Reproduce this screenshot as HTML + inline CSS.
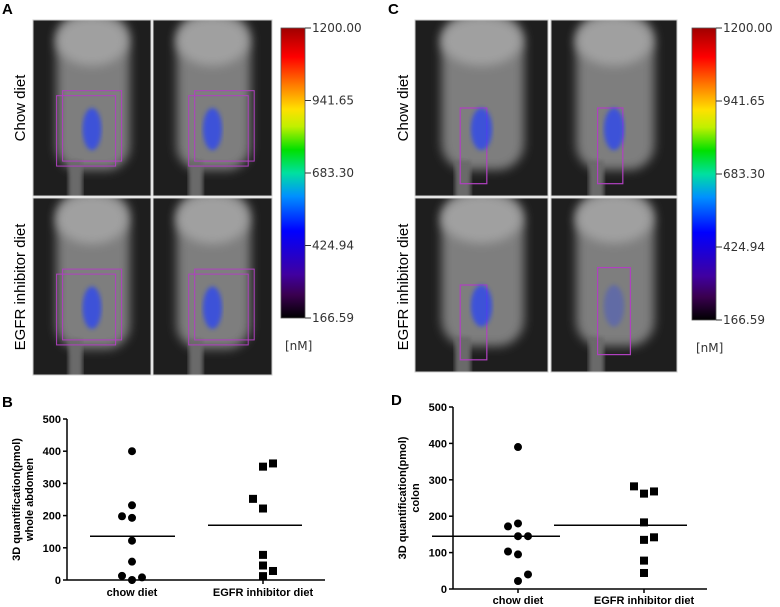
<!DOCTYPE html>
<html><head><meta charset="utf-8"><style>
body{margin:0;background:#fff;width:780px;height:607px;overflow:hidden;font-family:"Liberation Sans",sans-serif}
svg{display:block}
</style></head><body>
<svg width="780" height="607" xmlns="http://www.w3.org/2000/svg">
<defs>
<filter id="bl" x="-20%" y="-20%" width="140%" height="140%"><feGaussianBlur stdDeviation="5"/></filter>
<filter id="bl2"><feGaussianBlur stdDeviation="2"/></filter>
<linearGradient id="cb" x1="0" y1="1" x2="0" y2="0">
<stop offset="0" stop-color="#000"/><stop offset="0.08" stop-color="#3a0050"/><stop offset="0.15" stop-color="#4000a0"/>
<stop offset="0.3" stop-color="#0000ff"/><stop offset="0.42" stop-color="#0090ff"/><stop offset="0.5" stop-color="#00e0a0"/>
<stop offset="0.58" stop-color="#00e000"/><stop offset="0.66" stop-color="#c0f000"/><stop offset="0.72" stop-color="#ffe000"/>
<stop offset="0.8" stop-color="#ff8000"/><stop offset="0.9" stop-color="#ff0000"/><stop offset="1" stop-color="#a00000"/>
</linearGradient>
</defs>
<g>
<text x="2" y="14" font-size="15" font-weight="bold">A</text>
</g>
</svg>
<script>
const NS='http://www.w3.org/2000/svg';
const root=document.querySelector('svg');
function mk(tag,attrs,parent){const e=document.createElementNS(NS,tag);for(const k in attrs)e.setAttribute(k,attrs[k]);(parent||root).appendChild(e);return e;}
const imgs=[[33,20,118,176,0],[153,20,119,176,1],[33,198,118,177,0],[153,198,119,177,1],
[415,20,133,176,0],[551,20,126,176,1],[415,198,133,174,0],[551,198,126,174,1]];
imgs.forEach((m,i)=>{
 const g=mk('g',{});
 
 
 const [x,y,w,h]=m;
 const cp=mk('clipPath',{id:'cp'+i},root);
 mk('rect',{x,y,width:w,height:h},cp);
 const inner=mk('g',{'clip-path':'url(#cp'+i+')'},g);
 mk('rect',{x,y,width:w,height:h,fill:'#1e1e1e'},inner);
 mk('rect',{x:x+w*0.2,y:y-5,width:w*0.62,height:h*0.88,rx:w*0.2,fill:'#7e7e7e',filter:'url(#bl)'},inner);
 mk('rect',{x:x+w*0.3,y:y+h*0.8,width:w*0.12,height:h*0.25,fill:'#6a6a6a',filter:'url(#bl2)'},inner);
 mk('ellipse',{cx:x+w*0.5,cy:y+h*0.12,rx:w*0.3,ry:h*0.14,fill:'#a0a0a0',filter:'url(#bl)'},inner);
 const bx=x+w*(i%2?0.3:0.2), by=y+h*(i<4?0.43:0.48);
 if(i<4){
  mk('rect',{x:bx,y:by,width:w*0.5,height:h*0.4,fill:'none',stroke:'#b040c0','stroke-width':1},inner);
  mk('rect',{x:bx+6,y:by-5,width:w*0.5,height:h*0.4,fill:'none',stroke:'#b040c0','stroke-width':1},inner);
 } else {
  const bw=w*(i==7?0.26:0.2);
  mk('rect',{x:x+w*(i%2?0.37:0.34),y:y+h*(i==7?0.4:0.5),width:bw,height:h*(i==7?0.5:0.43),fill:'none',stroke:'#b040c0','stroke-width':1.2},inner);
 }
 mk('ellipse',{cx:x+w*0.5,cy:y+h*0.62,rx:w*0.08,ry:h*0.12,fill:'#2040ff',opacity:i==7?0.3:0.7,filter:'url(#bl2)'},inner);
 mk('rect',{x,y,width:w,height:h,fill:'none',stroke:'#ccc','stroke-width':1},g);
});
[[281,28,290,'a'],[692,28,292,'c']].forEach(c=>{
 const [x,y,h,id]=c;
 const g=mk('g',{});
 
 
 mk('rect',{x,y,width:24,height:h,fill:'url(#cb)',stroke:'#555','stroke-width':0.8},g);
 ['1200.00','941.65','683.30','424.94','166.59'].forEach((t,k)=>{
  const ty=y+k*h/4;
  mk('line',{x1:x+24,x2:x+30,y1:ty,y2:ty,stroke:'#333'},g);
  const tx=mk('text',{x:x+31,y:ty+4,'font-size':12,fill:'#333','font-family':'DejaVu Sans, sans-serif'},g);tx.textContent=t;
 });
 const n=mk('text',{x:x+4,y:y+h+32,'font-size':12,fill:'#333','font-family':'DejaVu Sans, sans-serif'},g);n.textContent='[nM]';
});
[[25,108,'Chow diet'],[25,287,'EGFR inhibitor diet'],[408,108,'Chow diet'],[408,287,'EGFR inhibitor diet']].forEach(r=>{
 const t=mk('text',{x:r[0],y:r[1],'font-size':15,'text-anchor':'middle',transform:`rotate(-90 ${r[0]} ${r[1]})`});
 t.textContent=r[2];
 
 
});
const lc=mk('text',{x:388,y:14,'font-size':15,'font-weight':'bold'});lc.textContent='C';



// ---- scatter data ----
const categories=['chow diet','EGFR inhibitor diet'];
const yTicks=[0,100,200,300,400,500];
const bChow=[400,232,198,193,122,57,13,0,8];
const bChowOff=[0,0,-1,0,0,0,-1,0,1];
const bEgfr=[352,362,252,222,78,45,12,28];
const bEgfrOff=[0,1,-1,0,0,0,0,1];
const bMeans=[136,170];
const dChow=[390,172,180,145,145,103,95,40,22];
const dChowOff=[0,-1,0,0,1,-1,0,1,0];
const dEgfr=[282,262,268,183,135,142,78,44];
const dEgfrOff=[-1,0,1,0,0,1,0,0];
const dMeans=[145,175];

function plot(o){
 const g=mk('g',{});
 
 
 const ys=v=>o.y0-(v/500)*(o.y0-o.y500);
 const lab=mk('text',{x:o.lx,y:o.ly,'font-size':15,'font-weight':'bold'},g);lab.textContent=o.label;
 mk('line',{x1:o.ax,x2:o.ax,y1:o.y500,y2:o.y0,stroke:'#000','stroke-width':1.5},g);
 mk('line',{x1:o.ax,x2:o.axEnd,y1:o.y0,y2:o.y0,stroke:'#000','stroke-width':1.5},g);
 yTicks.forEach(t=>{
  mk('line',{x1:o.ax-4,x2:o.ax,y1:ys(t),y2:ys(t),stroke:'#000','stroke-width':1.5},g);
  const tx=mk('text',{x:o.ax-6,y:ys(t)+4,'font-size':11,'font-weight':'bold','text-anchor':'end'},g);tx.textContent=t;
 });
 categories.forEach((c,i)=>{
  mk('line',{x1:o.cx[i],x2:o.cx[i],y1:o.y0,y2:o.y0+4,stroke:'#000','stroke-width':1.5},g);
  const tx=mk('text',{x:o.cx[i],y:o.y0+o.labOff,'font-size':11,'font-weight':'bold','text-anchor':'middle'},g);tx.textContent=c;
 });
 const yt=mk('text',{'font-size':11,'font-weight':'bold','text-anchor':'middle',transform:`translate(${o.tx},${(o.y0+o.y500)/2}) rotate(-90)`},g);
 const t1=mk('tspan',{x:0,dy:0},yt);t1.textContent='3D quantification(pmol)';
 const t2=mk('tspan',{x:0,dy:13},yt);t2.textContent=o.sub;
 o.chow.forEach((v,i)=>{
  const c=mk('circle',{cx:o.cx[0]+o.chowOff[i]*10,cy:ys(v),r:4,fill:'#000'},g);
  
  
 });
 o.egfr.forEach((v,i)=>{
  const r=mk('rect',{x:o.cx[1]+o.egfrOff[i]*10-4,y:ys(v)-4,width:8,height:8,fill:'#000'},g);
  
  
 });
 o.means.forEach((m,i)=>{
  const l=mk('line',{x1:o.cx[i]-o.mw[i][0],x2:o.cx[i]+o.mw[i][1],y1:ys(m),y2:ys(m),stroke:'#000','stroke-width':1.5},g);
  
  
 });
}
plot({name:'panel-b-scatter',label:'B',lx:2,ly:407,ax:67,axEnd:325,y0:580,y500:419,cx:[132,263],tx:20,sub:'whole abdomen',labOff:16,
 chow:bChow,chowOff:bChowOff,egfr:bEgfr,egfrOff:bEgfrOff,means:bMeans,mw:[[42,43],[55,39]]});
plot({name:'panel-d-scatter',label:'D',lx:391,ly:405,ax:453,axEnd:707,y0:589,y500:407,cx:[518,644],tx:406,sub:'colon',labOff:15,
 chow:dChow,chowOff:dChowOff,egfr:dEgfr,egfrOff:dEgfrOff,means:dMeans,mw:[[86,42],[90,43]]});
</script>
</body></html>
